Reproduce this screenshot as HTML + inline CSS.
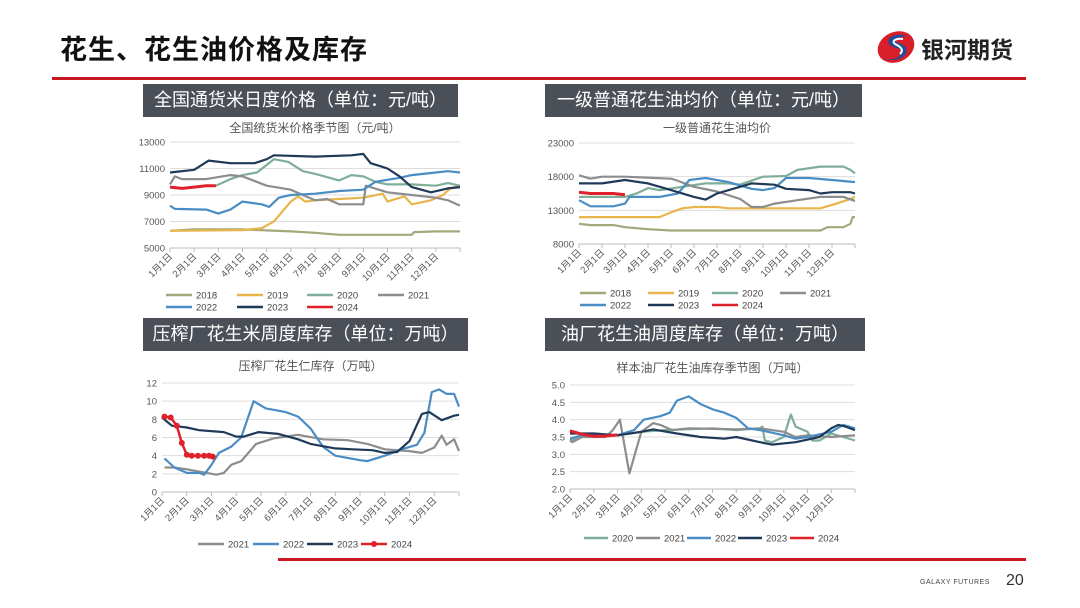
<!DOCTYPE html>
<html><head><meta charset="utf-8">
<style>
body{margin:0;background:#fff;}
#w{position:relative;width:1080px;height:608px;overflow:hidden;font-family:"Liberation Sans","Noto Sans CJK SC",sans-serif;}
.hd{position:absolute;left:60px;top:28px;font-size:27px;font-weight:bold;color:#111;letter-spacing:1px;}
.box{position:absolute;background:#4b5058;color:#fff;font-size:18px;line-height:33px;text-align:center;}
</style></head><body><div id="w">
<div class="hd">花生、花生油价格及库存</div>
<div style="position:absolute;left:52px;top:77px;width:974px;height:3px;background:#c8171e"></div>
<div style="position:absolute;left:278px;top:558px;width:748px;height:3px;background:#c8171e"></div>
<svg style="position:absolute;left:876px;top:30px" width="40" height="34" viewBox="0 0 40 34">
<ellipse cx="20" cy="17" rx="19" ry="15" fill="#d81e28" transform="rotate(-25 20 17)"/>
<path d="M30 6 C20 2 8 8 14 15 C18 19 28 17 24 25 C21 30 12 30 8 28 C16 33 34 28 30 18 C27 12 18 14 20 10 C22 7 28 7 30 6Z" fill="#1d4f9b"/>
<path d="M27 9 C20 8 15 11 19 14 C23 16 29 19 24 24" stroke="#fff" stroke-width="2" fill="none"/>
</svg>
<div style="position:absolute;left:921px;top:31px;font-size:23px;font-weight:bold;color:#222">银河期货</div>
<div style="position:absolute;left:920px;top:579px;font-size:7px;color:#444;letter-spacing:0.5px">GALAXY FUTURES</div>
<div style="position:absolute;left:1006px;top:572px;font-size:16px;color:#333">20</div>
<div class="box" style="left:143px;top:84px;width:315px">全国通货米日度价格（单位：元/吨）</div>
<div class="box" style="left:545px;top:84px;width:317px">一级普通花生油均价（单位：元/吨）</div>
<div class="box" style="left:143px;top:318px;width:325px">压榨厂花生米周度库存（单位：万吨）</div>
<div class="box" style="left:545px;top:318px;width:320px">油厂花生油周度库存（单位：万吨）</div>
<svg id="s" style="position:absolute;left:0;top:0" width="1080" height="608"></svg>
</div>
<script>
var C={o:'#a4a77a',y:'#e8b54c',t:'#7fae98',g:'#8d8d8d',b:'#4a8dc4',n:'#1f3a58',r:'#e0202a'};
var h='';
function chart(c){
 var x0=c.x0,x1=c.x1,y0=c.y0,y1=c.y1,dx=(x1-x0)/12;
 h+='<text x="'+(x0+x1)/2+'" y="'+c.ty+'" font-size="12" fill="#555" text-anchor="middle">'+c.title+'</text>';
 for(var i=0;i<c.ticks.length;i++){var v=c.ticks[i];var yy=y1-(v-c.min)/(c.max-c.min)*(y1-y0);
  h+='<line x1="'+x0+'" x2="'+x1+'" y1="'+yy+'" y2="'+yy+'" stroke="'+(i==0?'#bbb':'#ddd')+'" stroke-width="1"/>';
  h+='<text x="'+(x0-5)+'" y="'+(yy+3.5)+'" font-size="9.5" fill="#555" text-anchor="end">'+c.lab[i]+'</text>';}
 for(var m=0;m<=12;m++){var xx=x0+m*dx;h+='<line x1="'+xx+'" x2="'+xx+'" y1="'+y1+'" y2="'+(y1+4)+'" stroke="#bbb"/>';
  if(m<12)h+='<text x="'+(xx+3)+'" y="'+(y1+9)+'" font-size="9.5" fill="#555" text-anchor="end" transform="rotate(-45 '+(xx+3)+' '+(y1+9)+')">'+(m+1)+'月1日</text>';}
 c.s.forEach(function(s){var p=s.d.map(function(q){return (x0+q[0]*dx).toFixed(1)+','+(y1-(q[1]-c.min)/(c.max-c.min)*(y1-y0)).toFixed(1)}).join(' ');
  h+='<polyline points="'+p+'" fill="none" stroke="'+C[s.c]+'" stroke-width="'+(s.w||2.2)+'" stroke-linejoin="round"/>';
  if(s.mk)p.split(' ').forEach(function(pt){var a=pt.split(',');h+='<circle cx="'+a[0]+'" cy="'+a[1]+'" r="3" fill="'+C.r+'"/>';});});
 c.leg.forEach(function(l){h+='<line x1="'+l[0]+'" x2="'+(l[0]+l[4])+'" y1="'+l[1]+'" y2="'+l[1]+'" stroke="'+C[l[2]]+'" stroke-width="2.5"/>';
  if(l[5])h+='<circle cx="'+(l[0]+l[4]/2)+'" cy="'+l[1]+'" r="3" fill="'+C.r+'"/>';
  h+='<text x="'+(l[0]+l[4]+4)+'" y="'+(l[1]+3.5)+'" font-size="9.5" fill="#444">'+l[3]+'</text>';});
}
chart({x0:170,x1:460,y0:142,y1:248,min:5000,max:13000,ticks:[5000,7000,9000,11000,13000],lab:['5000','7000','9000','11000','13000'],ty:132,title:'全国统货米价格季节图（元/吨）',
s:[{c:'o',d:[[0,6300],[1,6400],[3,6400],[5,6250],[6,6150],[7,6000],[10,6000],[10.1,6200],[11,6250],[12,6250]]},
{c:'y',d:[[0,6300],[3,6350],[3.8,6500],[4.3,7000],[5,8500],[5.3,8900],[5.6,8500],[6,8600],[7,8700],[8,8800],[8.8,9100],[9,8500],[9.7,8900],[10,8300],[10.8,8600],[11.3,9000],[11.6,9500],[12,9700]]},
{c:'t',d:[[1.9,9700],[2.5,10200],[3,10500],[3.6,10700],[4.3,11700],[4.9,11500],[5.5,10800],[6,10600],[7,10100],[7.5,10500],[8,10400],[8.5,10000],[9,9800],[10,9800],[11,9700],[11.5,9900],[12,9700]]},
{c:'g',d:[[0,9800],[0.2,10400],[0.5,10200],[1.5,10200],[2.5,10500],[3,10400],[4,9700],[5,9400],[6,8600],[6.5,8700],[7,8300],[8,8300],[8.1,9700],[9,9200],[10,9000],[11,8800],[11.5,8600],[12,8200]]},
{c:'b',d:[[0,8200],[0.2,7950],[1.5,7900],[2,7600],[2.5,7900],[3,8500],[3.8,8300],[4.1,8100],[4.5,8800],[5,9000],[6,9100],[7,9300],[8,9400],[8.5,10000],[9.5,10300],[10,10500],[11,10700],[11.5,10800],[12,10700]]},
{c:'n',d:[[0,10700],[1,10900],[1.6,11600],[2.5,11400],[3.5,11400],[4,11700],[4.3,12000],[6,11900],[7.5,12000],[8,12100],[8.3,11400],[9,11000],[9.5,10400],[10,9600],[10.8,9200],[11.5,9500],[12,9600]]},
{c:'r',w:3,d:[[0,9600],[0.5,9500],[1,9600],[1.5,9700],[1.9,9700]]}],
leg:[[166,295,'o','2018',26],[237,295,'y','2019',26],[307,295,'t','2020',26],[378,295,'g','2021',26],[166,307,'b','2022',26],[237,307,'n','2023',26],[307,307,'r','2024',26]]});
chart({x0:579,x1:855,y0:143,y1:244,min:8000,max:23000,ticks:[8000,13000,18000,23000],lab:['8000','13000','18000','23000'],ty:132,title:'一级普通花生油均价',
s:[{c:'o',d:[[0,11000],[0.5,10800],[1.5,10800],[2,10500],[3,10200],[4,10000],[10.5,10000],[10.8,10500],[11.5,10500],[11.8,11000],[11.9,12000],[12,12000]]},
{c:'y',d:[[0,12000],[3.5,12000],[4,12700],[4.5,13300],[5,13500],[6,13500],[6.5,13300],[10.5,13300],[11.2,14000],[11.8,14700],[12,15000]]},
{c:'t',d:[[0,15000],[2,15000],[2.5,15500],[3,16300],[3.5,16000],[4.5,16500],[5.5,17000],[6.5,17000],[7,16800],[8,18000],[9,18100],[9.5,19000],[10.5,19500],[11.5,19500],[11.8,19000],[12,18500]]},
{c:'g',d:[[0,18200],[0.5,17700],[1,18000],[2,18000],[4,17700],[4.2,17500],[5,16500],[6,15800],[7,14700],[7.5,13500],[8,13500],[8.5,14000],[9.5,14500],[10.5,15000],[11.5,15000],[12,14400]]},
{c:'b',d:[[0,14500],[0.5,13600],[1.5,13600],[2,14000],[2.2,15000],[3.5,15000],[4.3,15500],[4.8,17500],[5.5,17800],[6.5,17200],[7.5,16200],[8,16000],[8.5,16300],[9,17800],[10,17800],[11,17500],[12,17200]]},
{c:'n',d:[[0,17000],[1,17000],[2,17500],[3,17000],[4,16000],[5,15000],[5.5,14600],[6,15500],[7,16500],[7.5,17000],[8.5,16800],[9,16200],[10,16000],[10.5,15500],[11,15700],[11.8,15700],[12,15500]]},
{c:'r',w:3,d:[[0,15700],[0.5,15500],[1.5,15500],[2,15300]]}],
leg:[[580,293,'o','2018',26],[648,293,'y','2019',26],[712,293,'t','2020',26],[780,293,'g','2021',26],[580,305,'b','2022',26],[648,305,'n','2023',26],[712,305,'r','2024',26]]});
chart({x0:162,x1:459,y0:383,y1:492,min:0,max:12,ticks:[0,2,4,6,8,10,12],lab:['0','2','4','6','8','10','12'],ty:370,title:'压榨厂花生仁库存（万吨）',
s:[{c:'g',d:[[0.1,2.7],[0.5,2.7],[1,2.5],[2,2.0],[2.2,1.9],[2.5,2.1],[2.8,3],[3.2,3.4],[3.8,5.3],[4.5,5.9],[5,6.1],[5.5,6.3],[6.5,5.8],[7.5,5.7],[8.3,5.3],[9,4.7],[10,4.5],[10.5,4.3],[11,4.9],[11.3,6.2],[11.5,5.2],[11.8,5.8],[12,4.5]]},
{c:'b',d:[[0.1,3.7],[0.5,2.7],[1,2.1],[1.5,2.1],[1.7,1.9],[2,3],[2.3,4.3],[2.8,5],[3.2,6],[3.7,10],[4.2,9.2],[5,8.8],[5.5,8.3],[6,7],[6.5,5],[7,4],[8,3.5],[8.3,3.4],[9,4],[9.8,4.8],[10.3,5.2],[10.6,6.5],[10.9,11],[11.2,11.3],[11.5,10.8],[11.8,10.8],[12,9.4]]},
{c:'n',d:[[0,8.2],[0.4,7.3],[1,7.1],[1.5,6.8],[2.5,6.6],[3,6.1],[3.3,6.1],[3.9,6.6],[4.7,6.4],[5.5,5.8],[6,5.3],[7,4.8],[7.7,4.7],[8.5,4.6],[9,4.3],[9.5,4.4],[10,5.6],[10.5,8.6],[10.8,8.8],[11.3,7.9],[11.8,8.4],[12,8.5]]},
{c:'r',w:2.5,mk:1,d:[[0.1,8.3],[0.35,8.2],[0.6,7.3],[0.8,5.4],[1.0,4.1],[1.2,4.0],[1.45,4.0],[1.7,4.0],[1.9,4.0],[2.05,3.9]]}],
leg:[[198,544,'g','2021',26],[253,544,'b','2022',26],[307,544,'n','2023',26],[361,544,'r','2024',26,1]]});
chart({x0:570,x1:855,y0:385,y1:489,min:2,max:5,ticks:[2,2.5,3,3.5,4,4.5,5],lab:['2.0','2.5','3.0','3.5','4.0','4.5','5.0'],ty:372,title:'样本油厂花生油库存季节图（万吨）',
s:[{c:'t',d:[[0,3.4],[0.5,3.5],[1,3.6],[2,3.55],[3,3.65],[4,3.7],[6,3.75],[7,3.7],[8,3.75],[8.1,3.8],[8.2,3.4],[8.5,3.35],[9,3.5],[9.3,4.15],[9.5,3.8],[10,3.65],[10.2,3.4],[10.5,3.4],[11,3.6],[11.5,3.5],[12,3.4]]},
{c:'g',d:[[0,3.4],[0.1,3.35],[0.5,3.5],[1.5,3.5],[1.8,3.7],[2.1,4.0],[2.5,2.45],[3,3.65],[3.5,3.9],[3.8,3.85],[4.3,3.7],[5,3.75],[7,3.72],[8,3.75],[9,3.65],[9.5,3.5],[10,3.55],[11,3.5],[12,3.55]]},
{c:'b',d:[[0,3.45],[0.5,3.55],[2,3.55],[2.7,3.7],[3.1,4.0],[3.8,4.1],[4.2,4.2],[4.5,4.55],[5,4.67],[5.5,4.45],[6,4.3],[6.5,4.2],[7,4.05],[7.5,3.75],[8,3.7],[9,3.55],[9.5,3.45],[10,3.5],[11,3.65],[11.5,3.85],[12,3.75]]},
{c:'n',d:[[0,3.6],[1,3.6],[2,3.55],[3,3.65],[3.5,3.72],[4.5,3.6],[5.5,3.5],[6.5,3.45],[7,3.5],[8,3.35],[8.5,3.28],[9.5,3.35],[10.5,3.5],[11,3.75],[11.3,3.85],[11.6,3.8],[12,3.7]]},
{c:'r',w:3,d:[[0,3.68],[0.5,3.58],[1,3.52],[1.5,3.53],[2,3.56]]}],
leg:[[584,538,'t','2020',24],[636,538,'g','2021',24],[687,538,'b','2022',24],[738,538,'n','2023',24],[790,538,'r','2024',24]]});
document.getElementById('s').innerHTML=h;
</script>
</body></html>
